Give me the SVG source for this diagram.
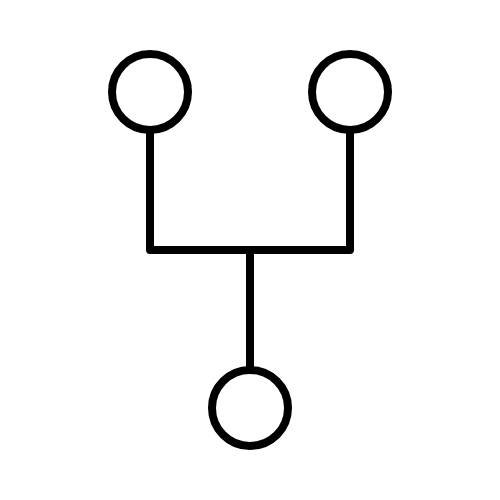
<svg xmlns="http://www.w3.org/2000/svg" width="500" height="500" viewBox="0 0 500 500">
<style>
.s{fill:none;stroke:#000;stroke-width:8;stroke-linejoin:round;stroke-linecap:butt}
</style>
<rect width="500" height="500" fill="#fff"/>
<g id="connectors">
<path class="s" d="M150,130 V250 H350 V130"/>
<path class="s" d="M250,250 V370"/>
</g>
<g id="node-left"><circle class="s" cx="150" cy="92" r="38"/></g>
<g id="node-right"><circle class="s" cx="350" cy="92" r="38"/></g>
<g id="node-bottom"><circle class="s" cx="250" cy="408" r="38"/></g>
</svg>
